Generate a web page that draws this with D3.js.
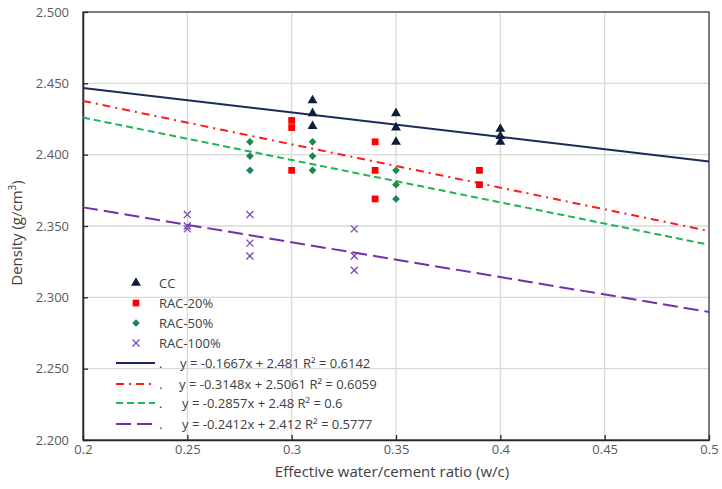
<!DOCTYPE html>
<html>
<head>
<meta charset="utf-8">
<script src="https://cdn.jsdelivr.net/npm/d3@7"></script>
<style>
body { margin: 0; background: #fff; }
text { font-family: "Open Sans", "Noto Sans", sans-serif; }
</style>
</head>
<body>
<div id="chart-area"></div>
<script>
// w/c ratio and measured density for each mix
const ccX = [0.31, 0.31, 0.31, 0.35, 0.35, 0.35, 0.40, 0.40, 0.40]
const ccY = [2.438, 2.429, 2.420, 2.429, 2.419, 2.409, 2.418, 2.413, 2.409]
const rac20X = [0.30, 0.30, 0.30, 0.34, 0.34, 0.34, 0.39, 0.39]
const rac20Y = [2.424, 2.419, 2.389, 2.409, 2.389, 2.369, 2.389, 2.379]
const rac50X = [0.28, 0.28, 0.28, 0.31, 0.31, 0.31, 0.35, 0.35, 0.35]
const rac50Y = [2.409, 2.399, 2.389, 2.409, 2.399, 2.389, 2.389, 2.379, 2.369]
const rac100X = [0.25, 0.25, 0.25, 0.28, 0.28, 0.28, 0.33, 0.33, 0.33]
const rac100Y = [2.358, 2.350, 2.348, 2.358, 2.338, 2.329, 2.348, 2.329, 2.319]

const seriesNames = ["CC", "RAC-20%", "RAC-50%", "RAC-100%"]
const fitLabels = [
	"y = -0.1667x + 2.481 R\u00b2 = 0.6142",
	"y = -0.3148x + 2.5061 R\u00b2 = 0.6059",
	"y = -0.2857x + 2.48 R\u00b2 = 0.6",
	"y = -0.2412x + 2.412 R\u00b2 = 0.5777"
]
const xTicks = [0.2, 0.25, 0.3, 0.35, 0.4, 0.45, 0.5]
const yTicks = [2.2, 2.25, 2.3, 2.35, 2.4, 2.45, 2.5]

const MARGIN = {LEFT: 83, RIGHT: 13, TOP: 12, BOTTOM: 49}
const WIDTH = 722 - MARGIN.LEFT - MARGIN.RIGHT
const HEIGHT = 489 - MARGIN.TOP - MARGIN.BOTTOM

const styles = [
	{marker: d3.symbolTriangle, size: 42, rot: 0, fill: "#0f1d3d", line: "#1b2a5c", dash: null},
	{marker: d3.symbolSquare, size: 46, rot: 0, fill: "#ff0000", line: "#ff1a1a", dash: "8,5,2,5"},
	{marker: d3.symbolSquare, size: 30, rot: 45, fill: "#178a4e", line: "#1fb35a", dash: "7,4"},
	{marker: d3.symbolX, size: 34, rot: 0, fill: "#7a45b5", line: "#7330a6", dash: "15,6"}
]

const series = [[ccX, ccY], [rac20X, rac20Y], [rac50X, rac50Y], [rac100X, rac100Y]]
	.map(([xs, ys], i) => ({name: seriesNames[i], pts: xs.map((x, j) => ({x, y: ys[j]})), st: styles[i], label: fitLabels[i]}))

// least squares fit, same as the excel trendline
function linFit(pts) {
	const mx = d3.mean(pts, d => d.x)
	const my = d3.mean(pts, d => d.y)
	const sxy = d3.sum(pts, d => (d.x - mx) * (d.y - my))
	const sxx = d3.sum(pts, d => (d.x - mx) ** 2)
	const b = sxy / sxx
	return {b, a: my - b * mx}
}

function drawMarker(sel, st) {
	const isX = st.marker === d3.symbolX
	sel.attr("d", d3.symbol().type(st.marker).size(st.size))
		.attr("fill", isX ? "none" : st.fill)
		.attr("stroke", isX ? st.fill : "none")
		.attr("stroke-width", 1.3)
}

const svg = d3.select("#chart-area").append("svg")
	.attr("width", 722)
	.attr("height", 489)
const g = svg.append("g")
	.attr("transform", `translate(${MARGIN.LEFT}, ${MARGIN.TOP})`)

const x = d3.scaleLinear().domain([0.2, 0.5]).range([0, WIDTH])
const y = d3.scaleLinear().domain([2.2, 2.5]).range([HEIGHT, 0])

// gridlines
g.append("g").selectAll("line").data(xTicks).enter().append("line")
	.attr("x1", d => x(d)).attr("x2", d => x(d))
	.attr("y1", 0).attr("y2", HEIGHT)
	.attr("stroke", "#d9d9d9").attr("stroke-width", 1.3)
g.append("g").selectAll("line").data(yTicks).enter().append("line")
	.attr("x1", 0).attr("x2", WIDTH)
	.attr("y1", d => y(d)).attr("y2", d => y(d))
	.attr("stroke", "#d9d9d9").attr("stroke-width", 1.3)

// frame
g.append("rect")
	.attr("width", WIDTH).attr("height", HEIGHT)
	.attr("fill", "none").attr("stroke", "#595959").attr("stroke-width", 1.5)

const xAxisCall = d3.axisBottom(x).tickValues(xTicks).tickSizeInner(-5).tickSizeOuter(0)
	.tickPadding(5).tickFormat(d => d3.format("")(+d.toFixed(2)))
const xAxis = g.append("g")
	.attr("transform", `translate(0, ${HEIGHT})`)
	.call(xAxisCall)
xAxis.select(".domain").attr("stroke", "#262626").attr("stroke-width", 1.5)
xAxis.selectAll(".tick line").attr("stroke", "#262626").attr("stroke-width", 1.3)
xAxis.selectAll("text").attr("font-size", "13px").attr("fill", "#595959")

const yAxisCall = d3.axisLeft(y).tickValues(yTicks).tickSizeInner(-5).tickSizeOuter(0)
	.tickPadding(14).tickFormat(d3.format(".3f"))
const yAxis = g.append("g").call(yAxisCall)
yAxis.select(".domain").attr("stroke", "#262626").attr("stroke-width", 1.5)
yAxis.selectAll(".tick line").attr("stroke", "#262626").attr("stroke-width", 1.3)
yAxis.selectAll("text").attr("font-size", "13px").attr("fill", "#595959")

// trendlines across the full x range
series.forEach(s => {
	const f = linFit(s.pts)
	g.append("line")
		.attr("x1", x(0.2)).attr("y1", y(f.a + f.b * 0.2))
		.attr("x2", x(0.5)).attr("y2", y(f.a + f.b * 0.5))
		.attr("stroke", s.st.line).attr("stroke-width", 2)
		.attr("stroke-dasharray", s.st.dash)
})

// markers
series.forEach(s => {
	g.append("g").selectAll("path").data(s.pts).enter().append("path")
		.attr("transform", d => `translate(${x(d.x)}, ${y(d.y)}) rotate(${s.st.rot})`)
		.call(drawMarker, s.st)
})

// legend
const legend = svg.append("g")
series.forEach((s, i) => {
	const ly = 283 + i * 20
	legend.append("path")
		.attr("transform", `translate(136, ${ly}) rotate(${s.st.rot})`)
		.call(drawMarker, s.st)
	legend.append("text")
		.attr("x", 159).attr("y", ly + 5)
		.attr("font-size", "13px").attr("fill", "#404040")
		.text(s.name)
})
const fitRows = [363, 384, 403, 424]
const fitTextX = [180, 179, 182, 182]
series.forEach((s, i) => {
	const ly = fitRows[i]
	legend.append("line")
		.attr("x1", 116).attr("x2", 155)
		.attr("y1", ly).attr("y2", ly)
		.attr("stroke", s.st.line).attr("stroke-width", 2)
		.attr("stroke-dasharray", s.st.dash)
	legend.append("text")
		.attr("x", 159).attr("y", ly + 5)
		.attr("font-size", "13px").attr("fill", "#404040")
		.text(".")
	legend.append("text")
		.attr("x", fitTextX[i]).attr("y", ly + 5)
		.attr("font-size", "13px").attr("fill", "#404040")
		.text(s.label)
})

// axis titles
svg.append("text")
	.attr("x", MARGIN.LEFT + WIDTH / 2 - 4)
	.attr("y", 477)
	.attr("font-size", "15px")
	.attr("text-anchor", "middle")
	.attr("fill", "#404040")
	.text("Effective water/cement ratio (w/c)")

const yTitle = svg.append("text")
	.attr("transform", "translate(22, 233) rotate(-90)")
	.attr("font-size", "15px")
	.attr("text-anchor", "middle")
	.attr("fill", "#404040")
yTitle.append("tspan").text("Density (g/cm")
yTitle.append("tspan").attr("font-size", "10px").attr("dy", -6).text("3")
yTitle.append("tspan").attr("dy", 6).text(")")
</script>
</body>
</html>
